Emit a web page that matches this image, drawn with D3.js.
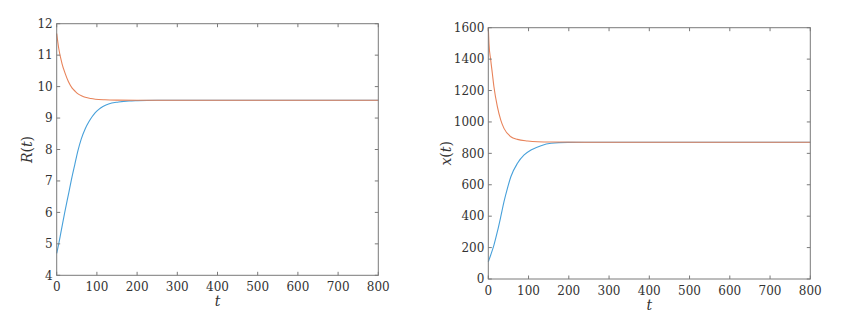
<!DOCTYPE html>
<html><head><meta charset="utf-8">
<script src="https://cdn.jsdelivr.net/npm/d3@7"></script>
<style>
body{margin:0;background:#fff}
svg{display:block}
svg text{font-family:"DejaVu Serif","Liberation Serif",serif;fill:#333}
</style>
</head><body>
<svg id="c" width="854" height="320"></svg>
<script>
// ---- data ----
const tTicks = [0,100,200,300,400,500,600,700,800];
const rTicks = [4,5,6,7,8,9,10,11,12];
const xTicks = [0,200,400,600,800,1000,1200,1400,1600];

const rBlueT = [0,5,10,20,30,36,45,53,61,71,80,88,96,104,115,129,154,180,200,250,300,800];
const rBlueV = [4.7,5.0,5.33,6.0,6.62,7.0,7.52,7.97,8.33,8.66,8.88,9.04,9.17,9.27,9.37,9.45,9.51,9.545,9.555,9.565,9.565,9.565];
const rOrangeT = [0,5,13,21,29,38,46,54,63,71,85,96,120,150,200,800];
const rOrangeV = [11.69,11.22,10.74,10.42,10.16,9.96,9.85,9.76,9.7,9.66,9.62,9.6,9.58,9.57,9.565,9.565];

const xBlueT = [0,6,14,22.5,31,39,47.5,56,72.5,89,106,131,156,197,250,800];
const xBlueV = [110,153,216,301,397,492,577,651,737,790,821,849,864,870,871,871];
const xOrangeT = [0,1.7,6,10,14,22.5,31,39,56,72.5,97.5,122,160,250,800];
const xOrangeV = [1602,1500,1394,1310,1224,1097,1012,959,906,889,879,874,872,871,871];

const blue = "#47a0da", orange = "#e8835a";
const svg = d3.select("#c");

function panel(opt){
  const g = svg.append("g");
  const x = d3.scaleLinear().domain([0,800]).range([opt.x0,opt.x1]);
  const y = d3.scaleLinear().domain(opt.ydom).range([opt.y1,opt.y0]);
  const tl = 3.5;
  // lines
  const line = d3.line().x(d=>x(d[0])).y(d=>y(d[1])).curve(d3.curveMonotoneX);
  g.append("path").datum(d3.zip(opt.bT,opt.bV)).attr("d",line).attr("fill","none").attr("stroke",blue).attr("stroke-width",1.1);
  g.append("path").datum(d3.zip(opt.oT,opt.oV)).attr("d",line).attr("fill","none").attr("stroke",orange).attr("stroke-width",1.1);
  // box
  g.append("rect").attr("x",opt.x0).attr("y",opt.y0).attr("width",opt.x1-opt.x0).attr("height",opt.y1-opt.y0)
    .attr("fill","none").attr("stroke","#7a7a7a").attr("stroke-width",1);
  // ticks
  const tickG = g.append("g").attr("stroke","#7a7a7a").attr("stroke-width",1);
  tTicks.forEach(v=>{
    tickG.append("line").attr("x1",x(v)).attr("x2",x(v)).attr("y1",opt.y1).attr("y2",opt.y1-tl);
    tickG.append("line").attr("x1",x(v)).attr("x2",x(v)).attr("y1",opt.y0).attr("y2",opt.y0+tl);
  });
  opt.yt.forEach(v=>{
    tickG.append("line").attr("x1",opt.x0).attr("x2",opt.x0+tl).attr("y1",y(v)).attr("y2",y(v));
    tickG.append("line").attr("x1",opt.x1).attr("x2",opt.x1-tl).attr("y1",y(v)).attr("y2",y(v));
  });
  // tick labels
  g.append("g").selectAll("text").data(tTicks).join("text")
    .attr("x",d=>x(d)).attr("y",opt.y1+16).attr("text-anchor","middle")
    .attr("font-size",12).text(d=>d);
  g.append("g").selectAll("text").data(opt.yt).join("text")
    .attr("x",opt.x0-4).attr("y",d=>y(d)+4.2).attr("text-anchor","end")
    .attr("font-size",12).text(d=>d);
  // axis labels
  g.append("text").attr("x",(opt.x0+opt.x1)/2).attr("y",opt.y1+31).attr("text-anchor","middle")
    .attr("font-style","italic").attr("font-size",14).text("t");
  const yl = g.append("text").attr("transform",`translate(${opt.ylx},${(opt.y0+opt.y1)/2}) rotate(-90)`)
    .attr("text-anchor","middle").attr("font-size",14);
  yl.append("tspan").attr("font-style","italic").text(opt.yname);
  yl.append("tspan").text("(");
  yl.append("tspan").attr("font-style","italic").text("t");
  yl.append("tspan").text(")");
}

panel({x0:56.7,x1:378.3,y0:23.7,y1:275.3,ydom:[4,12],yt:rTicks,yname:"R",ylx:32,
  bT:rBlueT,bV:rBlueV,oT:rOrangeT,oV:rOrangeV});
panel({x0:488.3,x1:810.3,y0:27.7,y1:279,ydom:[0,1600],yt:xTicks,yname:"x",ylx:451,
  bT:xBlueT,bV:xBlueV,oT:xOrangeT,oV:xOrangeV});
</script>
</body></html>
